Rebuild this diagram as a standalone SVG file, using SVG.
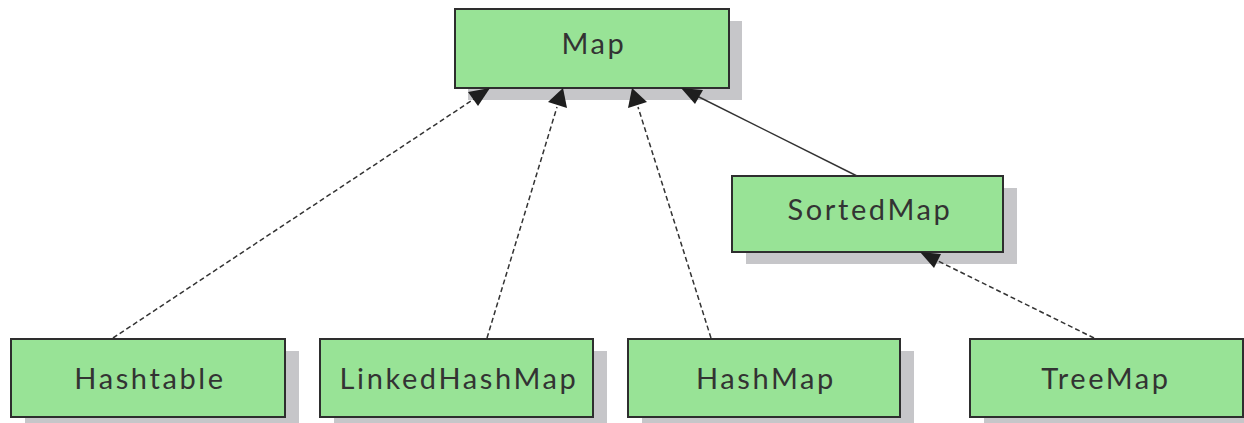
<svg xmlns="http://www.w3.org/2000/svg" width="1244" height="423" viewBox="0 0 1244 423">
<defs>
<style>
.shadow{fill:#c6c6c9;}
.box{fill:#98e396;stroke:#2e2e2e;stroke-width:2;}
.lbl{font-family:Lato,"Open Sans",sans-serif;font-size:29px;letter-spacing:2.6px;fill:#333;text-anchor:middle;}
.dash{stroke:#333;stroke-width:1.5;stroke-dasharray:5,3;fill:none;}
.solid{stroke:#333;stroke-width:1.5;fill:none;}
.head{fill:#1e1e1e;}
</style>
</defs>
<rect width="1244" height="423" fill="#fff"/>
<g id="map">
<rect class="shadow" x="468" y="21" width="274" height="79"/>
<rect class="box" x="455" y="9" width="274" height="79"/>
<text class="lbl" x="594" y="54">Map</text>
</g>
<g id="sortedmap">
<rect class="shadow" x="746" y="188" width="271" height="76"/>
<rect class="box" x="732" y="176" width="271" height="76"/>
<text class="lbl" x="870" y="220">SortedMap</text>
</g>
<g id="hashtable">
<rect class="shadow" x="25" y="351" width="274" height="78"/>
<rect class="box" x="11" y="339" width="274" height="78"/>
<text class="lbl" x="150" y="389">Hashtable</text>
</g>
<g id="linkedhashmap">
<rect class="shadow" x="334" y="351" width="273" height="78"/>
<rect class="box" x="320" y="339" width="273" height="78"/>
<text class="lbl" x="459" y="389">LinkedHashMap</text>
</g>
<g id="hashmap">
<rect class="shadow" x="642" y="351" width="272" height="78"/>
<rect class="box" x="628" y="339" width="272" height="78"/>
<text class="lbl" x="766" y="389">HashMap</text>
</g>
<g id="treemap">
<rect class="shadow" x="984" y="351" width="273" height="78"/>
<rect class="box" x="970" y="339" width="273" height="78"/>
<text class="lbl" x="1106" y="389">TreeMap</text>
</g>
<g id="connectors">
<line class="dash" x1="113" y1="338" x2="474" y2="99"/>
<polygon class="head" points="490,88 478,106 468,92"/>
<line class="dash" x1="487" y1="338" x2="557" y2="107"/>
<polygon class="head" points="563,88 567,108 548,102"/>
<line class="dash" x1="711" y1="338" x2="638" y2="107"/>
<polygon class="head" points="632,88 647,102 628,108"/>
<line class="solid" x1="857" y1="176" x2="697" y2="96"/>
<polygon class="head" points="681,88 703,90 695,104"/>
<line class="dash" x1="1094" y1="338" x2="936" y2="260"/>
<polygon class="head" points="920,252 941,254 934,268"/>
</g>
</svg>
